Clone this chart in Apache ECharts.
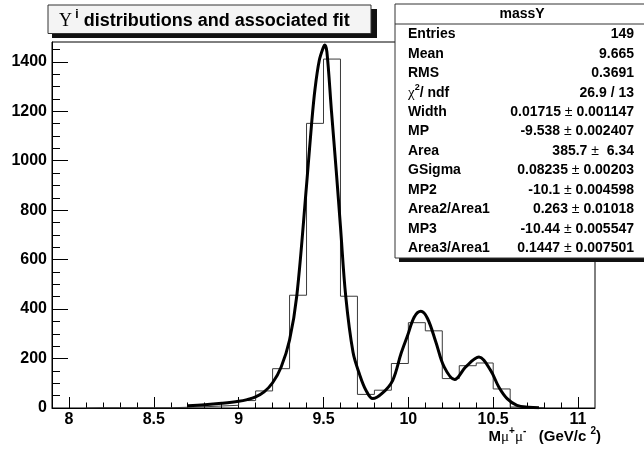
<!DOCTYPE html>
<html>
<head>
<meta charset="utf-8">
<script src="https://cdn.jsdelivr.net/npm/echarts@6/dist/echarts.min.js"></script>
<style>
  html, body { margin: 0; padding: 0; background: #fff; }
  #chart { width: 644px; height: 455px; }
</style>
</head>
<body>
<div id="chart"></div>
<script>
// Histogram: lower bin edges (GeV/c^2) and bin contents
const binLow = [8.1, 8.2, 8.3, 8.4, 8.5, 8.6, 8.7, 8.8, 8.9, 9.0, 9.1, 9.2, 9.3, 9.4,
                9.5, 9.6, 9.7, 9.8, 9.9, 10.0, 10.1, 10.2, 10.3, 10.4, 10.5, 10.6, 10.7];
const binWidth = 0.1;
const binCounts = [1, 1, 1, 1, 1, 3, 5, 8, 11, 30, 69, 159, 456, 1151,
                   1411, 452, 55, 72, 180, 345, 312, 119, 171, 182, 77, 4, 1];

// Fitted function sampled along the mass axis
const fitX = [8.70, 8.80, 8.90, 9.00, 9.05, 9.10, 9.15, 9.20, 9.25, 9.30, 9.343, 9.40, 9.43,
              9.45, 9.475, 9.50, 9.507, 9.52, 9.547, 9.575, 9.60, 9.631, 9.674, 9.713, 9.75,
              9.79, 9.85, 9.908, 9.957, 9.996, 10.035, 10.074, 10.113, 10.162, 10.211,
              10.273, 10.338, 10.416, 10.484, 10.533, 10.582, 10.64, 10.709, 10.77];
const fitY = [9, 13, 19, 27, 34, 45, 65, 102, 165, 275, 456, 900, 1151,
              1290, 1405, 1460, 1468, 1440, 1200, 960, 733, 452, 225, 135, 72,
              38, 62, 112, 220, 294, 368, 391, 362, 267, 166,
              115, 166, 206, 153, 85, 38, 11, 3, 1];

// Axis ticks and labels
const xTickValues = [8, 8.5, 9, 9.5, 10, 10.5, 11];
const xTickLabels = ['8', '8.5', '9', '9.5', '10', '10.5', '11'];
const yTickValues = [0, 200, 400, 600, 800, 1000, 1200, 1400];
const yTickLabels = ['0', '200', '400', '600', '800', '1000', '1200', '1400'];

// Fit statistics panel
const statTitle = 'massY';
const statNames = ['Entries', 'Mean', 'RMS', 'CHI2', 'Width', 'MP', 'Area', 'GSigma',
                   'MP2', 'Area2/Area1', 'MP3', 'Area3/Area1'];
const statValues = ['149', '9.665', '0.3691', '26.9 / 13', '0.01715', '-9.538', '385.7',
                    '0.08235', '-10.1', '0.263', '-10.44', '0.1447'];
const statErrors = ['', '', '', '', '0.001147', '0.002407', ' 6.34', '0.00203',
                    '0.004598', '0.01018', '0.005547', '0.007501'];

const SANS = 'Liberation Sans, Arial, Helvetica, sans-serif';
const SERIF = 'Liberation Serif, Times New Roman, serif';

const X_MIN = 7.9, X_MAX = 11.1, Y_MIN = 0, Y_MAX = 1480;

const xMinor = [];
for (let i = 80; i <= 110; i++) xMinor.push(i / 10);
const yMinor = [];
for (let v = 0; v <= 1450; v += 50) yMinor.push(v);

// Step outline of the histogram
const histData = [[binLow[0], 0]];
binLow.forEach((lo, i) => histData.push([lo, binCounts[i]]));
const lastHi = Math.round((binLow[binLow.length - 1] + binWidth) * 10) / 10;
histData.push([lastHi, binCounts[binCounts.length - 1]]);
histData.push([lastHi, 0]);

const fitData = fitX.map((x, i) => [x, fitY[i]]);

// Stats panel graphics
const BOX_X = 395, BOX_Y = 4, BOX_W = 262, BOX_H = 254;
const ROW0 = 34.3, ROW_STEP = 19.45;
const statGraphics = [
  { type: 'rect', z: 100, shape: { x: BOX_X + 4, y: BOX_Y + 4, width: BOX_W, height: BOX_H },
    style: { fill: '#111' } },
  { type: 'rect', z: 101, shape: { x: BOX_X, y: BOX_Y, width: BOX_W, height: BOX_H },
    style: { fill: '#fff', stroke: '#333', lineWidth: 1 } },
  { type: 'line', z: 102, shape: { x1: BOX_X, y1: 24, x2: 644, y2: 24 },
    style: { stroke: '#333', lineWidth: 1 } },
  { type: 'text', z: 102, x: 522, y: 14.5,
    style: { text: statTitle, font: 'bold 14px ' + SANS, fill: '#000',
             align: 'center', verticalAlign: 'middle' } }
];
statNames.forEach((name, i) => {
  const y = ROW0 + i * ROW_STEP;
  if (name === 'CHI2') {
    statGraphics.push({ type: 'text', z: 102, x: 408, y: y,
      style: { text: '{c|χ}{s|2}{b|/ ndf}', fill: '#000', align: 'left', verticalAlign: 'middle',
               rich: { c: { fontFamily: SERIF, fontSize: 15, lineHeight: 20, fill: '#000' },
                       s: { fontFamily: SANS, fontWeight: 'bold', fontSize: 9, lineHeight: 10,
                            verticalAlign: 'top', fill: '#000' },
                       b: { fontFamily: SANS, fontWeight: 'bold', fontSize: 14, lineHeight: 20,
                            fill: '#000' } } } });
  } else {
    statGraphics.push({ type: 'text', z: 102, x: 408, y: y,
      style: { text: name, font: 'bold 14px ' + SANS, fill: '#000',
               align: 'left', verticalAlign: 'middle' } });
  }
  const txt = statErrors[i]
    ? '{b|' + statValues[i] + ' }{p|±}{b| ' + statErrors[i] + '}'
    : '{b|' + statValues[i] + '}';
  statGraphics.push({ type: 'text', z: 102, x: 634, y: y,
    style: { text: txt, fill: '#000', align: 'right', verticalAlign: 'middle',
             rich: { b: { fontFamily: SANS, fontWeight: 'bold', fontSize: 14, fill: '#000' },
                     p: { fontFamily: SANS, fontSize: 14, fill: '#000' } } } });
});

// Title box
const titleGraphics = [
  { type: 'rect', z: 100, shape: { x: 52, y: 9, width: 325, height: 29 }, style: { fill: '#111' } },
  { type: 'rect', z: 101, shape: { x: 48, y: 5, width: 323, height: 28.5 },
    style: { fill: '#f4f4f4', stroke: '#333', lineWidth: 1 } },
  { type: 'text', z: 102, x: 59, y: 21,
    style: { text: '{u|Υ}{s| i}{b| distributions and associated fit}', fill: '#000',
             align: 'left', verticalAlign: 'middle',
             rich: { u: { fontFamily: SERIF, fontSize: 18, lineHeight: 24, fill: '#000' },
                     s: { fontFamily: SANS, fontWeight: 'bold', fontSize: 12, lineHeight: 14,
                          verticalAlign: 'top', fill: '#000' },
                     b: { fontFamily: SANS, fontWeight: 'bold', fontSize: 18, lineHeight: 24,
                          fill: '#000' } } } }
];

// X axis title
const axisTitle = { type: 'text', z: 102, x: 601, y: 437,
  style: { text: '{b|M}{m|μ}{s|+}{m|μ}{s|-}{b|   (GeV/c }{s|2}{b|)}', fill: '#000',
           align: 'right', verticalAlign: 'middle',
           rich: { b: { fontFamily: SANS, fontWeight: 'bold', fontSize: 15, lineHeight: 22, fill: '#000' },
                   m: { fontFamily: SERIF, fontSize: 15, lineHeight: 22, fill: '#000' },
                   s: { fontFamily: SANS, fontWeight: 'bold', fontSize: 10, lineHeight: 12,
                        verticalAlign: 'top', fill: '#000' } } } };

const chart = echarts.init(document.getElementById('chart'), null, { renderer: 'canvas' });
chart.setOption({
  animation: false,
  backgroundColor: '#fff',
  grid: { left: 52, top: 42, width: 543, height: 366, show: true,
          borderColor: '#000', borderWidth: 1, backgroundColor: 'transparent' },
  xAxis: [
    { type: 'value', min: X_MIN, max: X_MAX, position: 'bottom',
      axisLine: { show: true, onZero: false, lineStyle: { color: '#000', width: 1 } },
      splitLine: { show: false },
      axisTick: { show: true, inside: true, length: 11, customValues: xTickValues,
                  lineStyle: { color: '#000', width: 1 } },
      axisLabel: { show: true, customValues: xTickValues, margin: 12, verticalAlign: 'middle',
                   fontFamily: SANS, fontWeight: 'bold', fontSize: 16, color: '#000',
                   formatter: v => xTickLabels[xTickValues.findIndex(t => Math.abs(t - v) < 1e-6)] } },
    { type: 'value', min: X_MIN, max: X_MAX, position: 'bottom',
      axisLine: { show: false, onZero: false }, splitLine: { show: false },
      axisTick: { show: true, inside: true, length: 5.5, customValues: xMinor,
                  lineStyle: { color: '#000', width: 1 } },
      axisLabel: { show: false } }
  ],
  yAxis: [
    { type: 'value', min: Y_MIN, max: Y_MAX, position: 'left',
      axisLine: { show: true, onZero: false, lineStyle: { color: '#000', width: 1 } },
      splitLine: { show: false },
      axisTick: { show: true, inside: true, length: 16, customValues: yTickValues,
                  lineStyle: { color: '#000', width: 1 } },
      axisLabel: { show: true, customValues: yTickValues, margin: 5,
                   fontFamily: SANS, fontWeight: 'bold', fontSize: 16, color: '#000',
                   formatter: v => yTickLabels[yTickValues.indexOf(v)] } },
    { type: 'value', min: Y_MIN, max: Y_MAX, position: 'left',
      axisLine: { show: false, onZero: false }, splitLine: { show: false },
      axisTick: { show: true, inside: true, length: 8, customValues: yMinor,
                  lineStyle: { color: '#000', width: 1 } },
      axisLabel: { show: false } }
  ],
  series: [
    { name: 'massY', type: 'line', step: 'end', xAxisIndex: 0, yAxisIndex: 0,
      data: histData, symbol: 'none', clip: true, z: 2,
      lineStyle: { color: '#3a3a3a', width: 1 } },
    { name: 'fit', type: 'line', smooth: 0.35, xAxisIndex: 0, yAxisIndex: 0,
      data: fitData, symbol: 'none', clip: true, z: 3,
      lineStyle: { color: '#000', width: 3 } }
  ],
  graphic: titleGraphics.concat(statGraphics, [axisTitle])
});
</script>
</body>
</html>
